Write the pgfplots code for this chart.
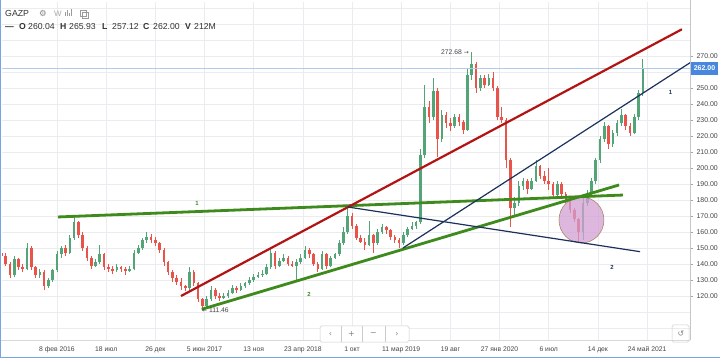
\documentclass[border=0pt]{standalone}
\usepackage{pgfplots}
\pgfplotsset{compat=1.18}
\usepackage{pgfplotstable}
\usepackage{fontspec}
\setmainfont{Liberation Sans}
\newfontfamily\dejavu{DejaVu Sans}
\definecolor{upc}{RGB}{83,165,120}
\definecolor{dnc}{RGB}{232,84,74}
\definecolor{gridc}{RGB}{234,236,240}
\definecolor{txt}{RGB}{70,70,70}
\definecolor{redline}{RGB}{178,20,20}
\definecolor{greenline}{RGB}{62,138,28}
\definecolor{navy}{RGB}{28,48,92}
\definecolor{circfill}{RGB}{210,160,210}
\definecolor{circbrd}{RGB}{170,135,110}
\definecolor{blueedge}{RGB}{120,165,225}
\definecolor{pricebox}{RGB}{72,135,222}
\definecolor{lineh}{RGB}{175,205,232}
\definecolor{icon}{RGB}{130,130,130}

\pgfplotstableread{
x o h l c
-26 147 149 143 145
-24 145 147 139 140
-22 140 141 131 133
-20 133 145 132 143
-18 143 144 136 138
-16 138 140 135 137
-14 137 153 136 150
-12 150 151 136 138
-10 138 139 131 133
-8 133 137 131 135
-6 135 136 124 126
-4 126 131 125 130
-2 130 137 129 136
0 136 148 135 146
2 146 151 144 150
4 150 152 145 147
6 147 158 146 156
8 156 170 155 166
10 166 167 156 158
12 158 160 148 150
14 150 151 142 144
16 144 145 137 139
18 139 143 138 141
20 141 152 140 146
22 146 147 136 138
24 138 140 135 137
26 137 139 134 136
28 136 140 135 138
30 138 139 135 137
32 137 138 133 136
34 136 139 135 137
36 137 149 136 147
38 147 152 146 150
40 150 156 149 155
42 155 160 153 157
44 157 159 153 155
46 155 157 151 153
48 153 154 147 149
50 149 150 139 141
52 141 142 133 135
54 135 136 129 131
56 131 133 127 129
58 129 131 124 126
60 126 127 123 125
62 125 138 124 135
64 135 136 126 128
66 128 129 116 118
68 118 119 111.46 114
70 114 120 113 118
72 118 126 117 124
74 124 125 118 120
76 120 122 117 119
78 119 122 118 120
80 120 124 119 122
82 122 127 121 125
84 125 126 122 124
86 124 128 123 126
88 126 129 125 128
90 128 132 127 130
92 130 134 129 132
94 132 135 131 133
96 133 136 132 134
98 134 140 133 138
100 138 150 137 147
102 147 148 137 139
104 139 144 138 142
106 142 146 141 144
108 144 145 139 140
110 140 142 138 139
112 139 143 130 141
114 141 146 140 144
116 144 151 143 149
118 149 150 144 146
120 146 147 139 140
122 140 141 135 137
124 137 148 136 146
126 146 147 137 139
128 139 145 138 144
130 144 147 143 146
132 146 155 145 153
134 153 163 152 160
136 160 176 159 170
138 170 172 162 164
140 164 165 155 156
142 156 158 153 154
144 154 156 149 152
146 152 167 151 158
148 158 159 147 153
150 153 162 152 160
152 160 165 159 163
154 163 164 159 161
156 161 162 155 157
158 157 158 153 155
160 155 156 150 153
162 153 160 152 158
164 158 163 157 162
166 162 166 161 164
168 164 167 162 166
170 166 212 165 208
172 208 252 206 238
174 238 242 228 232
176 232 256 230 248
178 248 250 207 218
180 218 236 216 233
182 233 235 225 228
184 228 231 223 226
186 226 234 225 232
188 232 234 226 229
190 229 230 221 224
192 224 262 223 258
194 258 272.68 255 265
196 265 266 247 250
198 250 258 248 256
200 256 258 250 252
202 252 259 251 256
204 256 260 248 250
206 250 251 230 232
208 232 238 228 230
210 230 231 200 205
212 205 206 163 175
214 175 182 170 178
216 178 192 176 189
218 189 194 186 192
220 192 193 184 187
222 187 194 186 192
224 192 205 191 201
226 201 202 193 195
228 195 198 190 192
230 192 200 186 190
232 190 191 181 183
234 183 192 182 190
236 190 191 182 184
238 184 185 178 180
240 180 181 172 174
242 174 175 166 168
244 168 169 153 160
246 160 181 155 178
248 178 186 176 184
250 184 194 183 192
252 192 206 190 205
254 205 220 203 218
256 218 229 216 226
258 226 227 212 215
260 215 224 213 222
262 222 230 220 228
264 228 237 226 233
266 233 234 224 226
268 226 228 220 222
270 222 234 221 232
272 232 249 230 247
274 247 268 245 262
}\gazp

\begin{document}
\begin{tikzpicture}
\path[use as bounding box] (-2bp,-18bp) rectangle (718bp,340bp);
\fill[white] (-2bp,-18bp) rectangle (718bp,340bp);
\begin{axis}[
  scale only axis, width=688bp, height=338bp,
  at={(0bp,0bp)}, anchor=south west,
  xmin=-25.725, xmax=296.07, ymin=92.5, ymax=303.75,
  axis line style={draw=none},
  xtick={0,23,...,276},
  xticklabels={8 фев 2016,18 июл,26 дек,5 июн 2017,13 ноя,23 апр 2018,1 окт,11 мар 2019,19 авг,27 янв 2020,6 июл,14 дек,24 май 2021},
  x tick label style={font=\fontsize{6.8}{8}\selectfont, text=txt, anchor=base, yshift=-8bp},
  xtick style={draw=none},
  ytick={120,130,...,270},
  yticklabels={120.00,130.00,140.00,150.00,160.00,170.00,180.00,190.00,200.00,210.00,220.00,230.00,240.00,250.00,,270.00},
  ytick pos=right, yticklabel pos=right,
  y tick label style={font=\fontsize{7}{8}\selectfont, text=txt, anchor=west},
  ytick style={draw=gray!70, line width=0.5bp},
  tick align=outside, major tick length=3bp,
  grid=major, major grid style={draw=gridc, line width=0.6bp},
  extra y ticks={100,110,280,290,300}, extra y tick labels={},
  extra y tick style={major tick length=0pt},
]
% wicks
\addplot[draw=none, mark=none, forget plot,
  restrict expr to domain={\thisrow{c}-\thisrow{o}}{0:1000},
  error bars/.cd, y dir=both, y explicit, error mark=none,
  error bar style={draw=upc, solid, line width=0.8bp}]
  table[x=x, y expr={(\thisrow{h}+\thisrow{l})/2}, y error expr={(\thisrow{h}-\thisrow{l})/2}] {\gazp};
\addplot[draw=none, mark=none, forget plot,
  restrict expr to domain={\thisrow{o}-\thisrow{c}}{0.001:1000},
  error bars/.cd, y dir=both, y explicit, error mark=none,
  error bar style={draw=dnc, solid, line width=0.8bp}]
  table[x=x, y expr={(\thisrow{h}+\thisrow{l})/2}, y error expr={(\thisrow{h}-\thisrow{l})/2}] {\gazp};
% bodies
\addplot[draw=none, mark=none, forget plot,
  restrict expr to domain={\thisrow{c}-\thisrow{o}}{0:1000},
  error bars/.cd, y dir=both, y explicit, error mark=none,
  error bar style={draw=upc, solid, line width=2.6bp}]
  table[x=x, y expr={(\thisrow{o}+\thisrow{c})/2}, y error expr={max(abs(\thisrow{c}-\thisrow{o})/2,0.3)}] {\gazp};
\addplot[draw=none, mark=none, forget plot,
  restrict expr to domain={\thisrow{o}-\thisrow{c}}{0.001:1000},
  error bars/.cd, y dir=both, y explicit, error mark=none,
  error bar style={draw=dnc, solid, line width=2.6bp}]
  table[x=x, y expr={(\thisrow{o}+\thisrow{c})/2}, y error expr={max(abs(\thisrow{c}-\thisrow{o})/2,0.3)}] {\gazp};
% circle
\draw[circbrd, line width=0.6bp, fill=circfill, fill opacity=0.75] (axis cs:245.3,167.5) ellipse [x radius=10.5, y radius=14.4];
% horizontal last price line
\addplot[lineh, line width=0.8bp, forget plot] coordinates {(-30,262) (300,262)};
% trend lines
\addplot[greenline, line width=2.8bp, forget plot] coordinates {(0.47,169.4) (264.7,183.1)};
\addplot[greenline, line width=2.8bp, forget plot] coordinates {(67.7,111.7) (262.9,189.4)};
\addplot[redline, line width=2.2bp, forget plot] coordinates {(58.0,120) (292.3,286.7)};
\addplot[navy, line width=1.2bp, forget plot] coordinates {(161.8,150) (296.1,265.8)};
\addplot[navy, line width=1.2bp, forget plot] coordinates {(136.1,175.6) (272.7,147.7)};
% labels
\node[text=greenline, font=\fontsize{6}{7}\selectfont\bfseries] at (axis cs:65.5,178.1) {1};
\node[text=greenline, font=\fontsize{6}{7}\selectfont\bfseries] at (axis cs:117.9,121.25) {2};
\node[text=navy, font=\fontsize{6}{7}\selectfont\bfseries] at (axis cs:287.0,247.5) {1};
\node[text=navy, font=\fontsize{6}{7}\selectfont\bfseries] at (axis cs:259.6,138.1) {2};
\node[anchor=east, inner sep=0pt, text=txt, font=\fontsize{6.8}{8}\selectfont] at (axis cs:192.7,272.5) {272.68 {\dejavu\fontsize{6}{7}\selectfont→}};
\node[anchor=west, inner sep=0pt, text=txt, font=\fontsize{6.8}{8}\selectfont] at (axis cs:67.8,111.25) {{\dejavu\fontsize{6}{7}\selectfont←} 111.46};
\end{axis}
% frame lines
\draw[gray!45, line width=0.6bp] (688bp,0bp) -- (688bp,340bp);
\draw[gray!30, line width=0.5bp] (-2bp,0bp) -- (688bp,0bp);
\fill[blueedge] (-2bp,-18bp) rectangle (-0.8bp,340bp);
\fill[blueedge] (-2bp,-18bp) rectangle (718bp,-16.9bp);
% price box
\fill[pricebox] (689bp,265bp) rectangle (716bp,278bp);
\node[text=white, font=\fontsize{7}{8}\selectfont\bfseries, inner sep=0pt] at (702.5bp,271.5bp) {262.00};
% header line 1
\node[anchor=base west, inner sep=0pt, text=black!80, font=\fontsize{8.8}{10}\selectfont] at (3bp,323.5bp) {GAZP};
\node[anchor=base west, inner sep=0pt, text=icon, font=\dejavu\fontsize{8.5}{10}\selectfont] at (37bp,323.5bp) {⚙};
\node[anchor=base west, inner sep=0pt, text=icon!70, font=\fontsize{8}{10}\selectfont] at (52bp,323.5bp) {W};
\foreach \xx/\hh in {63/4,65/6,67/3,69/7}{\fill[icon!80] (\xx bp,323.5bp) rectangle ++(1bp,\hh bp);}
\draw[icon!80, line width=0.6bp] (78bp,324bp) rectangle (84bp,330bp);
\draw[icon!80, line width=0.6bp] (80bp,322bp) rectangle (86bp,328bp);
% header line 2
\begin{scope}[every node/.style={anchor=base west, inner sep=0pt, text=black!80, font=\fontsize{8.7}{10}\selectfont}]
\node at (3bp,310.5bp) {\bfseries —};
\node at (17bp,310.5bp) {\bfseries O};
\node at (26bp,310.5bp) {260.04};
\node at (58bp,310.5bp) {\bfseries H};
\node at (67bp,310.5bp) {265.93};
\node at (100bp,310.5bp) {\bfseries L};
\node at (110bp,310.5bp) {257.12};
\node at (141bp,310.5bp) {\bfseries C};
\node at (151bp,310.5bp) {262.00};
\node at (183bp,310.5bp) {\bfseries V};
\node at (192bp,310.5bp) {212M};
\end{scope}
% navigation buttons
\draw[gray!40, fill=white, rounded corners=1.5bp, line width=0.5bp] (318bp,-2bp) rectangle (407bp,14bp);
\foreach \xx in {339,360,383}{\draw[gray!40, line width=0.5bp] (\xx bp,-2bp) -- (\xx bp,14bp);}
\begin{scope}[every node/.style={text=icon, font=\dejavu\fontsize{8}{9}\selectfont, inner sep=0pt}]
\node at (328.5bp,6bp) {‹};
\node at (349.5bp,6bp) {+};
\node at (371.5bp,6bp) {−};
\node at (395bp,6bp) {›};
\node at (679bp,6.5bp) {↺};
\end{scope}
\draw[gray!40, rounded corners=1.5bp, line width=0.5bp] (670bp,-2bp) rectangle (687bp,15bp);
\end{tikzpicture}
\end{document}
